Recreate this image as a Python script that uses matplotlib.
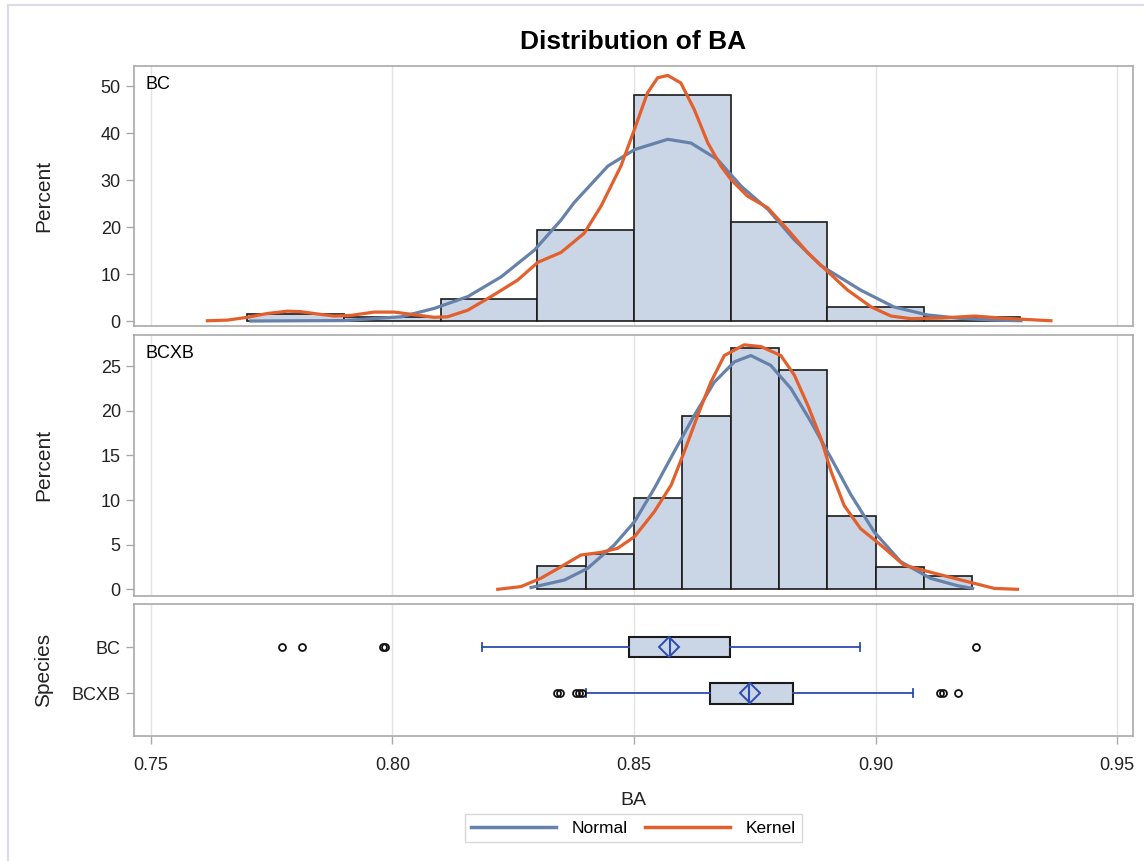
import numpy as np
import matplotlib.pyplot as plt
from matplotlib.lines import Line2D

plt.rcParams['font.family'] = ['Liberation Sans', 'DejaVu Sans']

# histogram bins (left edge) and percents
bc_left = [0.77, 0.79, 0.81, 0.83, 0.85, 0.87, 0.89, 0.91]
bc_pct = [1.5, 0.8, 4.7, 19.4, 48.1, 21.0, 3.0, 0.8]
bcxb_left = [0.83, 0.84, 0.85, 0.86, 0.87, 0.88, 0.89, 0.90, 0.91]
bcxb_pct = [2.6, 4.0, 10.2, 19.4, 27.0, 24.6, 8.2, 2.5, 1.5]

# curves
bc_norm_x = [0.7707, 0.7900, 0.8018, 0.8087, 0.8156, 0.8225, 0.8294, 0.8349, 0.8376,
             0.8446, 0.8501, 0.8570, 0.8618, 0.8673, 0.8722, 0.8777, 0.8831, 0.8887,
             0.8969, 0.9038, 0.9107, 0.9176, 0.9245, 0.9301]
bc_norm_y = [0.0, 0.1, 0.9, 2.7, 5.2, 9.4, 15.1, 21.5, 25.2,
             33.0, 36.5, 38.7, 37.9, 34.4, 28.7, 23.8, 17.4, 11.8,
             6.6, 3.0, 1.3, 0.57, 0.2, 0.06]
bc_kern_x = [0.7617, 0.7659, 0.7700, 0.7741, 0.7783, 0.7810, 0.7845, 0.7879, 0.7914,
             0.7962, 0.8004, 0.8045, 0.8086, 0.8114, 0.8156, 0.8204, 0.8259, 0.8301,
             0.8349, 0.8397, 0.8432, 0.8473, 0.8501, 0.8528, 0.8549, 0.8570, 0.8597,
             0.8625, 0.8653, 0.8680, 0.8701, 0.8735, 0.8777, 0.8818, 0.8860, 0.8894,
             0.8942, 0.8991, 0.9032, 0.9073, 0.9136, 0.9205, 0.9260, 0.9308, 0.9363]
bc_kern_y = [0.06, 0.2, 0.8, 1.6, 2.1, 2.0, 1.5, 1.06, 1.2,
             1.9, 1.9, 1.35, 0.8, 0.9, 2.3, 5.2, 8.7, 12.5,
             14.6, 18.7, 24.5, 33.0, 40.8, 48.6, 51.8, 52.3, 50.7,
             45.0, 37.9, 33.0, 30.1, 26.6, 24.1, 19.5, 14.5, 11.2,
             6.6, 3.0, 1.06, 0.5, 0.64, 1.06, 0.64, 0.35, 0.06]

bcxb_norm_x = [0.8287, 0.8356, 0.8404, 0.8459, 0.8501, 0.8542, 0.8583, 0.8625, 0.8666,
               0.8708, 0.8742, 0.8783, 0.8825, 0.8866, 0.8908, 0.8949, 0.8997, 0.9052,
               0.9114, 0.9170, 0.9201]
bcxb_norm_y = [0.2, 1.04, 2.35, 4.96, 7.57, 11.3, 15.4, 19.5, 23.2,
               25.5, 26.2, 25.1, 22.5, 18.8, 14.7, 10.6, 6.45, 3.1,
               1.23, 0.4, 0.1]
bcxb_kern_x = [0.8218, 0.8266, 0.8307, 0.8349, 0.8390, 0.8432, 0.8466, 0.8501, 0.8542,
               0.8577, 0.8604, 0.8632, 0.8659, 0.8687, 0.8728, 0.8763, 0.8804, 0.8832,
               0.8860, 0.8887, 0.8908, 0.8935, 0.8969, 0.9011, 0.9059, 0.9122, 0.9191,
               0.9246, 0.9294]
bcxb_kern_y = [0.0, 0.3, 1.23, 2.53, 3.84, 4.14, 4.59, 5.89, 8.69,
               11.68, 15.4, 19.5, 23.2, 26.2, 27.4, 27.2, 26.2, 24.0,
               20.6, 16.9, 13.2, 9.4, 6.8, 4.96, 2.7, 1.8, 0.85,
               0.1, 0.0]

# box plot summary
species = ['BC', 'BCXB']
whis_lo = [0.8186, 0.8401]
q1 = [0.8490, 0.8658]
median = [0.8575, 0.8739]
mean = [0.8573, 0.8741]
q3 = [0.8699, 0.8830]
whis_hi = [0.8967, 0.9078]
outliers = [[0.7772, 0.7812, 0.7981, 0.7985, 0.9207],
            [0.8341, 0.8346, 0.8381, 0.8386, 0.8392, 0.9134, 0.9140, 0.9171]]

bar_fill = '#CAD5E5'
c_norm = '#6782AA'
c_kern = '#E35F2B'
c_box = '#2B4CB0'
spine_c = '#A9A9A9'
grid_c = '#E3E3E3'
xticks = [0.75, 0.80, 0.85, 0.90, 0.95]

fig = plt.figure(figsize=(11.44, 8.61), dpi=100)
ax1 = fig.add_axes([0.1171, 0.6217, 0.8733, 0.3016])
ax2 = fig.add_axes([0.1171, 0.3081, 0.8733, 0.3028])
ax3 = fig.add_axes([0.1171, 0.1452, 0.8733, 0.1533])


def style(ax):
    ax.set_xlim(0.7465, 0.9533)
    ax.set_xticks(xticks)
    for x in xticks:
        ax.axvline(x, color=grid_c, lw=1, zorder=0)
    for s in ax.spines.values():
        s.set_color(spine_c)
        s.set_linewidth(1.2)
    ax.tick_params(colors=spine_c, labelcolor='#222222', labelsize=13, length=6, width=1)


ax1.bar(bc_left, bc_pct, width=0.02, align='edge', color=bar_fill, edgecolor='#1a1a1a', lw=1.2, zorder=2)
ax1.plot(bc_norm_x, bc_norm_y, color=c_norm, lw=2.3, zorder=3)
ax1.plot(bc_kern_x, bc_kern_y, color=c_kern, lw=2.3, zorder=4)
ax1.set_ylim(-1.0, 54.3)
ax1.set_yticks([0, 10, 20, 30, 40, 50])
style(ax1)
ax1.tick_params(axis='x', length=0, labelbottom=False)
ax1.text(0.012, 0.96, 'BC', transform=ax1.transAxes, fontsize=13, va='top', ha='left')

ax2.bar(bcxb_left, bcxb_pct, width=0.01, align='edge', color=bar_fill, edgecolor='#1a1a1a', lw=1.2, zorder=2)
ax2.plot(bcxb_norm_x, bcxb_norm_y, color=c_norm, lw=2.3, zorder=3)
ax2.plot(bcxb_kern_x, bcxb_kern_y, color=c_kern, lw=2.3, zorder=4)
ax2.set_ylim(-0.72, 28.5)
ax2.set_yticks([0, 5, 10, 15, 20, 25])
style(ax2)
ax2.tick_params(axis='x', length=0, labelbottom=False)
ax2.text(0.012, 0.96, 'BCXB', transform=ax2.transAxes, fontsize=13, va='top', ha='left')

stats = []
for i in range(len(species)):
    stats.append(dict(label=species[i], whislo=whis_lo[i], q1=q1[i], med=median[i],
                      mean=mean[i], q3=q3[i], whishi=whis_hi[i], fliers=outliers[i]))
ax3.bxp(stats, positions=[0, 1], widths=0.44, orientation='horizontal', patch_artist=True,
        showmeans=True, manage_ticks=False, capwidths=0.17,
        boxprops=dict(facecolor=bar_fill, edgecolor='#1a1a1a', lw=1.5),
        medianprops=dict(color=c_box, lw=1.5),
        whiskerprops=dict(color=c_box, lw=1.3),
        capprops=dict(color=c_box, lw=1.3),
        meanprops=dict(marker='D', markersize=10, markerfacecolor='none',
                       markeredgecolor=c_box, markeredgewidth=1.4),
        flierprops=dict(marker='o', markersize=5, markerfacecolor='none',
                        markeredgecolor='#111111', markeredgewidth=1.3))
ax3.set_ylim(1.92, -0.93)
ax3.set_yticks([0, 1])
ax3.set_yticklabels(species)
style(ax3)
ax3.set_xticklabels(['0.75', '0.80', '0.85', '0.90', '0.95'])
ax3.tick_params(axis='x', pad=9)

for ax, lab in [(ax1, 'Percent'), (ax2, 'Percent'), (ax3, 'Species')]:
    ax.set_ylabel(lab, fontsize=15, color='#222222')
    ax.yaxis.set_label_coords(-0.081, 0.5)

fig.text(0.5537, 0.951, 'Distribution of BA', fontsize=19, fontweight='bold', ha='center', va='center')
fig.text(0.5537, 0.0708, 'BA', fontsize=14, ha='center', va='center', color='#222222')

handles = [Line2D([], [], color=c_norm, lw=2.5), Line2D([], [], color=c_kern, lw=2.5)]
leg = fig.legend(handles, ['Normal', 'Kernel'], loc='center', bbox_to_anchor=(0.5537, 0.0383),
                 ncol=2, frameon=True, fancybox=False, fontsize=12.5, handlelength=4.9,
                 columnspacing=1.0, borderpad=0.35, handletextpad=0.9)
leg.get_frame().set_edgecolor('#CFCFCF')
leg.get_frame().set_linewidth(1)

# outer frame
fig.add_artist(Line2D([8 / 1144, 8 / 1144], [0, 1 - 5 / 861], transform=fig.transFigure, color='#DCDCE8', lw=1.5))
fig.add_artist(Line2D([8 / 1144, 1], [1 - 5 / 861, 1 - 5 / 861], transform=fig.transFigure, color='#DCDCE8', lw=1.5))

plt.savefig('out.png', dpi=100)
